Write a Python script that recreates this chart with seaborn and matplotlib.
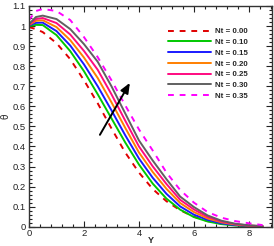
import numpy as np
import pandas as pd
import matplotlib
matplotlib.use("Agg")
import matplotlib.pyplot as plt
import seaborn as sns
from matplotlib.ticker import MultipleLocator

sns.set_style("ticks")
plt.rcParams['font.family'] = ['Liberation Sans', 'DejaVu Sans']

# ---- data ----
Y = [0, 0.25, 0.5, 1, 1.5, 2, 2.5, 3, 3.5, 4, 4.5, 5, 5.5, 6, 6.5, 7, 7.5, 8, 8.5]
theta_000 = [0.995, 0.985, 0.970, 0.915, 0.835, 0.730, 0.615, 0.490, 0.370, 0.270, 0.188, 0.127, 0.082, 0.050, 0.028, 0.015, 0.007, 0.003, 0.001]
theta_010 = [1.000, 1.006, 1.005, 0.955, 0.875, 0.775, 0.660, 0.540, 0.420, 0.310, 0.215, 0.140, 0.085, 0.048, 0.026, 0.013, 0.006, 0.003, 0.001]
theta_015 = [1.003, 1.016, 1.017, 0.975, 0.903, 0.809, 0.700, 0.580, 0.456, 0.340, 0.244, 0.164, 0.101, 0.060, 0.034, 0.017, 0.008, 0.004, 0.0015]
theta_020 = [1.005, 1.026, 1.029, 0.995, 0.930, 0.843, 0.741, 0.620, 0.493, 0.370, 0.273, 0.189, 0.118, 0.073, 0.041, 0.022, 0.011, 0.005, 0.002]
theta_025 = [1.008, 1.035, 1.040, 1.015, 0.958, 0.876, 0.782, 0.660, 0.529, 0.400, 0.301, 0.213, 0.134, 0.086, 0.049, 0.026, 0.013, 0.006, 0.0025]
theta_030 = [1.010, 1.045, 1.052, 1.035, 0.985, 0.910, 0.822, 0.700, 0.565, 0.430, 0.330, 0.237, 0.150, 0.098, 0.056, 0.030, 0.015, 0.007, 0.003]
theta_035 = [1.030, 1.075, 1.085, 1.075, 1.030, 0.945, 0.845, 0.730, 0.605, 0.485, 0.380, 0.270, 0.183, 0.120, 0.073, 0.045, 0.028, 0.017, 0.008]

labels = ["Nt = 0.00", "Nt = 0.10", "Nt = 0.15", "Nt = 0.20", "Nt = 0.25", "Nt = 0.30", "Nt = 0.35"]
series = [theta_000, theta_010, theta_015, theta_020, theta_025, theta_030, theta_035]
colors = ["#e00000", "#00c800", "#1a1aff", "#ff7f00", "#ff0a80", "#606060", "#ff00ff"]
styles = [(0, (3, 3)), "-", "-", "-", "-", "-", (0, (3, 3))]

arrow_tail = (2.58, 0.458)
arrow_head = (3.67, 0.717)

fig = plt.figure(figsize=(2.74, 2.46), dpi=100)
ax = fig.add_axes([29 / 274, 1 - 226.7 / 246, (271.7 - 29) / 274, (226.7 - 6) / 246])

for lab, s, c, ls in zip(labels, series, colors, styles):
    df = pd.DataFrame({"Y": Y, "theta": s})
    sns.lineplot(data=df, x="Y", y="theta", ax=ax, color=c, lw=1.4, label=lab)
    ax.lines[-1].set_linestyle(ls)

ax.annotate("", xy=arrow_head, xytext=arrow_tail,
            arrowprops=dict(arrowstyle="-|>,head_length=0.6,head_width=0.25",
                            color="black", lw=1.4, shrinkA=0, shrinkB=0))

ax.set_xlim(0, 8.83)
ax.set_ylim(0, 1.1)
ax.xaxis.set_major_locator(MultipleLocator(2))
ax.xaxis.set_minor_locator(MultipleLocator(0.4))
ax.yaxis.set_major_locator(MultipleLocator(0.1))
ax.yaxis.set_minor_locator(MultipleLocator(0.02))
ax.set_yticks([0, 0.1, 0.2, 0.3, 0.4, 0.5, 0.6, 0.7, 0.8, 0.9, 1.0, 1.1])
ax.set_yticklabels(["0", "0.1", "0.2", "0.3", "0.4", "0.5", "0.6", "0.7", "0.8", "0.9", "1", "1.1"])
ax.tick_params(which="both", direction="in", top=True, right=True, colors="#222222",
               labelsize=6.8, width=0.8)
ax.tick_params(which="major", length=4)
ax.tick_params(which="minor", length=2.5)
ax.tick_params(axis="y", pad=2.5)
ax.tick_params(axis="x", pad=1.8)
for sp in ax.spines.values():
    sp.set_linewidth(1.0)
    sp.set_color("#333333")

ax.set_xlabel("Y", fontsize=6.5, fontweight="bold")
ax.xaxis.set_label_coords(0.5, -0.04, transform=ax.transAxes)
ax.xaxis.label.set_va("top")
ax.set_ylabel("θ", fontsize=7, labelpad=1)

leg = ax.legend(loc="upper left", bbox_to_anchor=(0.56, 0.915), frameon=False,
                fontsize=5.7, handlelength=5.4, handletextpad=0.5,
                labelspacing=0.4, borderaxespad=0)
for t in leg.get_texts():
    t.set_fontweight("bold")

fig.savefig("out.png", dpi=100, facecolor="white")
